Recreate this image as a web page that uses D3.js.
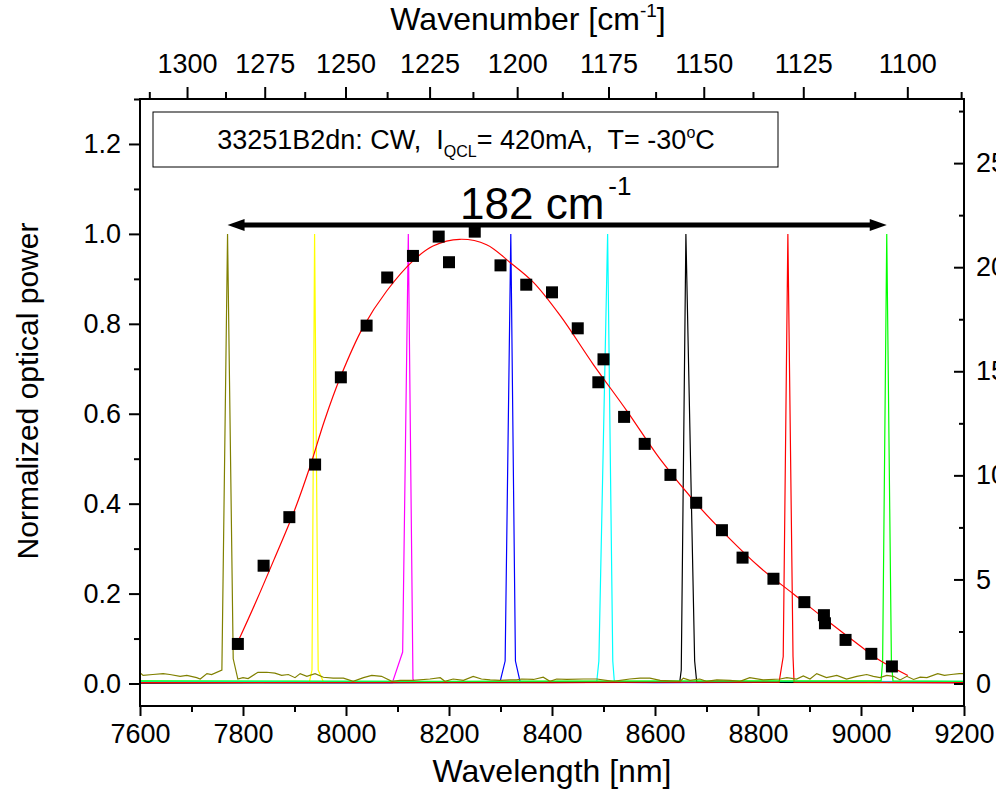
<!DOCTYPE html>
<html>
<head>
<meta charset="utf-8">
<script src="https://cdn.jsdelivr.net/npm/d3@7"></script>
<style>
  body { margin: 0; background: #fff; }
  svg text { font-family: "Liberation Sans", Arial, sans-serif; fill: #000; }
</style>
</head>
<body>
<svg></svg>
<script>
const width = 996;
const height = 790;
const margin = {left: 140, right: 32, top: 99, bottom: 84};
const fontFam = "'Liberation Sans', Arial, sans-serif";

// black squares: measured output power (normalized) vs wavelength [nm]
const pointWl  = [7790, 7840, 7890, 7940, 7990, 8040, 8080, 8130, 8180, 8200,
                  8250, 8300, 8350, 8400, 8450, 8490, 8500, 8540, 8580, 8630,
                  8680, 8730, 8770, 8830, 8890, 8928, 8930, 8970, 9020, 9060];
const pointPow = [0.088, 0.262, 0.370, 0.487, 0.681, 0.796, 0.903, 0.951, 0.994, 0.937,
                  1.005, 0.930, 0.887, 0.870, 0.790, 0.670, 0.721, 0.593, 0.533, 0.464,
                  0.402, 0.341, 0.280, 0.233, 0.181, 0.152, 0.134, 0.097, 0.066, 0.038];

// red fit curve
const fitWl  = [7793, 7826, 7860, 7900, 7930, 7958, 7989, 8033, 8079, 8130, 8169, 8221, 8273, 8319,
                8364, 8416, 8480, 8545, 8610, 8675, 8739, 8804, 8869, 8934, 8998, 9037, 9091];
const fitPow = [0.100, 0.184, 0.275, 0.385, 0.482, 0.584, 0.681, 0.792, 0.873, 0.940, 0.973, 0.988, 0.976, 0.936,
                0.892, 0.818, 0.710, 0.607, 0.499, 0.407, 0.329, 0.258, 0.199, 0.140, 0.084, 0.051, 0.018];

// olive spectrum (noisy baseline + peak at 7770 nm)
const oliveWl  = [7600, 7606, 7625, 7645, 7658, 7678, 7691, 7710, 7717, 7730, 7739, 7759, 7770, 7781, 7790,
                  7800, 7810, 7829, 7846, 7862, 7875, 7888, 7901, 7911, 7924, 7940, 7956, 7975, 7995, 8014,
                  8034, 8050, 8069, 8089, 8105, 8130, 8163, 8183, 8192, 8208, 8228, 8247, 8263, 8280, 8299,
                  8318, 8331, 8341, 8364, 8383, 8396, 8409, 8429, 8461, 8487, 8519, 8551, 8571, 8590, 8610,
                  8649, 8655, 8668, 8687, 8700, 8720, 8746, 8765, 8784, 8810, 8843, 8856, 8875, 8888, 8901,
                  8914, 8933, 8953, 8972, 8992, 9011, 9024, 9037, 9050, 9063, 9076, 9089, 9102, 9115, 9128,
                  9149, 9162, 9175, 9191, 9198];
const oliveVal = [0.024, 0.018, 0.020, 0.022, 0.020, 0.016, 0.018, 0.013, 0.010, 0.022, 0.020, 0.030, 1.000, 0.055, 0.010,
                  0.013, 0.011, 0.025, 0.025, 0.023, 0.018, 0.020, 0.013, 0.022, 0.016, 0.022, 0.014, 0.012, 0.012, 0.005,
                  0.013, 0.018, 0.016, 0.005, 0.007, 0.007, 0.010, 0.013, 0.005, 0.010, 0.007, 0.016, 0.010, 0.008, 0.007,
                  0.008, 0.008, 0.010, 0.009, 0.014, 0.005, 0.010, 0.009, 0.010, 0.010, 0.005, 0.010, 0.012, 0.012, 0.007,
                  0.005, 0.012, 0.007, 0.010, 0.005, 0.008, 0.007, 0.005, 0.013, 0.008, 0.010, 0.013, 0.010, 0.017, 0.010,
                  0.022, 0.013, 0.018, 0.010, 0.016, 0.020, 0.016, 0.013, 0.018, 0.016, 0.008, 0.016, 0.009, 0.014, 0.013,
                  0.022, 0.018, 0.020, 0.022, 0.022];

// other single-mode spectra [wavelength, normalized intensity]
const specYellow  = [[7600, 0.004], [7750, 0.003], [7900, 0.005], [7929, 0.004], [7934, 0.03], [7939, 1.0],
                     [7946, 0.03], [7956, 0.004], [8100, 0.003], [8400, 0.002], [8700, 0.003], [9000, 0.002], [9200, 0.003]];
const specMagenta = [[7600, 0.002], [7900, 0.003], [8090, 0.002], [8110, 0.07], [8121, 1.0], [8130, 0.01],
                     [8133, 0.003], [8400, 0.002], [8800, 0.003], [9200, 0.002]];
const specBlue    = [[7600, 0.003], [8000, 0.002], [8299, 0.003], [8309, 0.05], [8320, 1.0], [8329, 0.05],
                     [8338, 0.004], [8600, 0.002], [9200, 0.003]];
const specCyan    = [[7600, 0.005], [8200, 0.004], [8487, 0.005], [8491, 0.05], [8508, 1.0], [8518, 0.05],
                     [8521, 0.005], [8800, 0.004], [9200, 0.005]];
const specBlack   = [[7600, 0.001], [8300, 0.002], [8648, 0.003], [8651, 0.03], [8660, 1.0], [8677, 0.05],
                     [8681, 0.003], [9200, 0.002]];
const specRed     = [[7600, 0.002], [8500, 0.003], [8841, 0.003], [8849, 0.06], [8858, 1.0], [8868, 0.06],
                     [8870, 0.003], [9200, 0.002]];
const specGreen   = [[7600, 0.006], [8200, 0.005], [9039, 0.006], [9042, 0.05], [9050, 1.0], [9059, 0.05],
                     [9062, 0.006], [9200, 0.005]];

// tuning range arrow (olive peak -> green peak)
const spanEnds = [7770, 9050];

// tick values
const wlMajor = d3.range(7600, 9201, 200);
const wlMinor = d3.range(7700, 9200, 200);
const pMajor = [0, 0.2, 0.4, 0.6, 0.8, 1.0, 1.2];
const pMinor = [0.1, 0.3, 0.5, 0.7, 0.9, 1.1, 1.3];
const rMajor = [0, 5, 10, 15, 20, 25];
const rMinor = [2.5, 7.5, 12.5, 17.5, 22.5, 27.5];
const wnMajor = [1300, 1275, 1250, 1225, 1200, 1175, 1150, 1125, 1100];
const wnMinor = [1312.5, 1287.5, 1262.5, 1237.5, 1212.5, 1187.5, 1162.5, 1137.5, 1112.5, 1087.5];

const svg = d3.select("svg").attr("width", width).attr("height", height);

const x = d3.scaleLinear().domain([7600, 9200]).range([margin.left, width - margin.right]);
const y = d3.scaleLinear().domain([-0.05, 1.3]).range([height - margin.bottom, margin.top]);
const yR = d3.scaleLinear().domain([-1.08, 28.08]).range([height - margin.bottom, margin.top]);

const bottomY = height - margin.bottom;
const rightX = width - margin.right;

svg.append("clipPath").attr("id", "clip")
  .append("rect")
  .attr("x", margin.left).attr("y", margin.top)
  .attr("width", rightX - margin.left).attr("height", bottomY - margin.top);

const plot = svg.append("g").attr("clip-path", "url(#clip)");

const line = d3.line()
  .x(d => x(d[0]))
  .y(d => y(d[1]));

// spectra
const spectra = [
  {data: specYellow, color: "#ffff00"},
  {data: specMagenta, color: "#ff00ff"},
  {data: specBlue, color: "#0000ff"},
  {data: specCyan, color: "#00ffff"},
  {data: specBlack, color: "#000000"},
  {data: specRed, color: "#ff0000"},
  {data: specGreen, color: "#00ff00"},
  {data: oliveWl.map((w, i) => [w, oliveVal[i]]), color: "#808000"}
];

plot.selectAll(".spec")
  .data(spectra)
  .join("path")
  .attr("class", "spec")
  .attr("fill", "none")
  .attr("stroke", d => d.color)
  .attr("stroke-width", 1.2)
  .attr("d", d => line(d.data));

// fit
const fitLine = d3.line()
  .x(d => x(d[0]))
  .y(d => y(d[1]))
  .curve(d3.curveCatmullRom);

plot.append("path")
  .datum(fitWl.map((w, i) => [w, fitPow[i]]))
  .attr("fill", "none")
  .attr("stroke", "#ff0000")
  .attr("stroke-width", 1.2)
  .attr("d", fitLine);

// squares
const sq = 12;
plot.selectAll(".pt")
  .data(pointWl.map((w, i) => [w, pointPow[i]]))
  .join("rect")
  .attr("class", "pt")
  .attr("x", d => x(d[0]) - sq / 2)
  .attr("y", d => y(d[1]) - sq / 2)
  .attr("width", sq)
  .attr("height", sq)
  .attr("fill", "#000");

// axes
function styleAxis(g, size) {
  g.select(".domain").remove();
  g.selectAll(".tick line").attr("stroke", "#000").attr("stroke-width", 2);
  g.selectAll("text").attr("font-size", size).attr("font-family", fontFam).attr("fill", "#000");
}

svg.append("g")
  .attr("transform", `translate(0,${bottomY})`)
  .call(d3.axisBottom(x).tickValues(wlMajor).tickFormat(d3.format("d")).tickSize(10).tickPadding(8))
  .call(g => styleAxis(g, 27));

svg.append("g")
  .attr("transform", `translate(0,${bottomY})`)
  .call(d3.axisBottom(x).tickValues(wlMinor).tickFormat("").tickSize(6))
  .call(g => styleAxis(g, 27));

svg.append("g")
  .attr("transform", `translate(${margin.left},0)`)
  .call(d3.axisLeft(y).tickValues(pMajor).tickFormat(d3.format(".1f")).tickSize(11).tickPadding(8))
  .call(g => styleAxis(g, 27));

svg.append("g")
  .attr("transform", `translate(${margin.left},0)`)
  .call(d3.axisLeft(y).tickValues(pMinor).tickFormat("").tickSize(6))
  .call(g => styleAxis(g, 27));

svg.append("g")
  .attr("transform", `translate(${rightX},0)`)
  .call(d3.axisRight(yR).tickValues(rMajor).tickFormat(d3.format("d")).tickSize(-10).tickPadding(12))
  .call(g => styleAxis(g, 27));

svg.append("g")
  .attr("transform", `translate(${rightX},0)`)
  .call(d3.axisRight(yR).tickValues(rMinor).tickFormat("").tickSize(-5))
  .call(g => styleAxis(g, 27));

// top axis: wavenumber, placed through wavelength scale
const gTop = svg.append("g");
gTop.selectAll(".tmaj")
  .data(wnMajor)
  .join("line")
  .attr("x1", d => x(1e7 / d)).attr("x2", d => x(1e7 / d))
  .attr("y1", margin.top).attr("y2", margin.top - 12)
  .attr("stroke", "#000").attr("stroke-width", 2);
gTop.selectAll(".tmin")
  .data(wnMinor)
  .join("line")
  .attr("x1", d => x(1e7 / d)).attr("x2", d => x(1e7 / d))
  .attr("y1", margin.top).attr("y2", margin.top - 7)
  .attr("stroke", "#000").attr("stroke-width", 2);
gTop.selectAll(".tlab")
  .data(wnMajor)
  .join("text")
  .attr("x", d => x(1e7 / d))
  .attr("y", margin.top - 26)
  .attr("text-anchor", "middle")
  .attr("font-size", 27)
  .text(d => d);

// frame
svg.append("rect")
  .attr("x", margin.left).attr("y", margin.top)
  .attr("width", rightX - margin.left).attr("height", bottomY - margin.top)
  .attr("fill", "none").attr("stroke", "#000").attr("stroke-width", 2);

// axis titles
const tTop = svg.append("text")
  .attr("x", 528).attr("y", 30)
  .attr("text-anchor", "middle")
  .attr("font-size", 32);
tTop.append("tspan").text("Wavenumber [cm");
tTop.append("tspan").attr("font-size", 19).attr("dy", -13).text("-1");
tTop.append("tspan").attr("dy", 13).text("]");

svg.append("text")
  .attr("x", (margin.left + rightX) / 2).attr("y", 782)
  .attr("text-anchor", "middle")
  .attr("font-size", 32)
  .text("Wavelength [nm]");

svg.append("text")
  .attr("transform", "translate(38,391) rotate(-90)")
  .attr("text-anchor", "middle")
  .attr("font-size", 30)
  .text("Normalized optical power");

// annotation box
svg.append("rect")
  .attr("x", 153).attr("y", 112)
  .attr("width", 625).attr("height", 55)
  .attr("fill", "#fff").attr("stroke", "#000").attr("stroke-width", 1);

const tBox = svg.append("text")
  .attr("x", 466).attr("y", 149)
  .attr("text-anchor", "middle")
  .attr("font-size", 27)
  .style("white-space", "pre");
tBox.append("tspan").text("33251B2dn: CW,  I");
tBox.append("tspan").attr("font-size", 16).attr("dy", 8).text("QCL");
tBox.append("tspan").attr("dy", -8).text("= 420mA,  T= -30");
tBox.append("tspan").attr("font-size", 16).attr("dy", -11).text("o");
tBox.append("tspan").attr("dy", 11).text("C");

// tuning range arrow
const arrowY = 225;
const head = 17;
svg.append("line")
  .attr("x1", x(spanEnds[0]) + head - 2).attr("x2", x(spanEnds[1]) - head + 2)
  .attr("y1", arrowY).attr("y2", arrowY)
  .attr("stroke", "#000").attr("stroke-width", 5);
svg.append("path")
  .attr("d", `M${x(spanEnds[0])},${arrowY} L${x(spanEnds[0]) + head},${arrowY - 6} L${x(spanEnds[0]) + head},${arrowY + 6} Z`)
  .attr("fill", "#000");
svg.append("path")
  .attr("d", `M${x(spanEnds[1])},${arrowY} L${x(spanEnds[1]) - head},${arrowY - 6} L${x(spanEnds[1]) - head},${arrowY + 6} Z`)
  .attr("fill", "#000");

const tSpan = svg.append("text")
  .attr("x", 460).attr("y", 219)
  .attr("font-size", 44);
tSpan.append("tspan").text("182 cm");
tSpan.append("tspan").attr("font-size", 26).attr("dy", -24).attr("dx", 4).text("-1");
</script>
</body>
</html>
